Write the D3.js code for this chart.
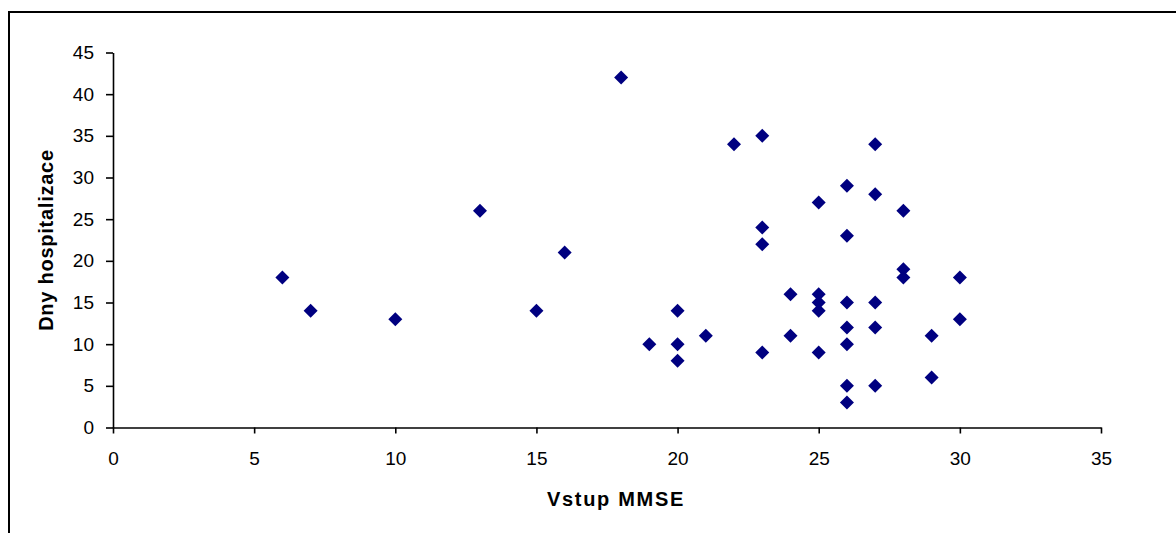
<!DOCTYPE html>
<html>
<head>
<meta charset="utf-8">
<script src="https://cdn.jsdelivr.net/npm/d3@7"></script>
<style>
  html, body { margin: 0; padding: 0; background: #fff; }
  svg { display: block; }
</style>
</head>
<body>
<svg id="chart" width="1176" height="533"></svg>
<script>
// MMSE score at admission and length of hospital stay (days)
const mmse = [6, 7, 10, 13, 15, 16, 18, 19, 20, 20, 20, 21, 22, 23, 23, 23, 23,
              24, 24, 25, 25, 25, 25, 25, 26, 26, 26, 26, 26, 26, 26,
              27, 27, 27, 27, 27, 28, 28, 28, 29, 29, 30, 30];
const days = [18, 14, 13, 26, 14, 21, 42, 10, 14, 10, 8, 11, 34, 35, 24, 22, 9,
              16, 11, 27, 16, 15, 14, 9, 29, 23, 15, 12, 10, 5, 3,
              34, 28, 15, 12, 5, 26, 19, 18, 11, 6, 18, 13];
const xTicks = [0, 5, 10, 15, 20, 25, 30, 35];
const yTicks = [0, 5, 10, 15, 20, 25, 30, 35, 40, 45];
const xTitle = "Vstup MMSE";
const yTitle = "Dny hospitalizace";

const svg = d3.select("#chart");
const font = "'Liberation Sans', Arial, sans-serif";

// outer chart frame (left and top edges visible)
svg.append("rect")
  .attr("x", 9).attr("y", 12)
  .attr("width", 1200).attr("height", 600)
  .attr("fill", "none").attr("stroke", "#000").attr("stroke-width", 2);

const x = d3.scaleLinear().domain([0, 35]).range([113, 1101]);
const y = d3.scaleLinear().domain([0, 45]).range([427.5, 52.5]);

const xAxis = svg.append("g")
  .attr("transform", `translate(0,${y(0)})`)
  .call(d3.axisBottom(x).tickValues(xTicks).tickSize(6).tickPadding(18).tickSizeOuter(0));
const yAxis = svg.append("g")
  .attr("transform", `translate(${x(0)},0)`)
  .call(d3.axisLeft(y).tickValues(yTicks).tickSize(7).tickPadding(12).tickSizeOuter(0));

[xAxis, yAxis].forEach(g => {
  g.select(".domain").attr("stroke", "#000").attr("stroke-width", 1.6);
  g.selectAll(".tick line").attr("stroke", "#000").attr("stroke-width", 1.6);
  g.selectAll(".tick text")
    .attr("fill", "#000")
    .style("font-family", font)
    .style("font-size", "19px");
});

// diamond markers
const diamond = "M0,-7L7,0L0,7L-7,0Z";
svg.append("g")
  .selectAll("path")
  .data(mmse.map((m, i) => [m, days[i]]))
  .join("path")
  .attr("d", diamond)
  .attr("transform", d => `translate(${x(d[0])},${y(d[1])})`)
  .attr("fill", "#000080");

// axis titles
svg.append("text")
  .attr("x", 616)
  .attr("y", 506)
  .attr("text-anchor", "middle")
  .style("font-family", font)
  .style("font-size", "20px")
  .style("font-weight", "bold")
  .style("letter-spacing", "1.7px")
  .text(xTitle);

svg.append("text")
  .attr("transform", `translate(53,${(y(0) + y(45)) / 2}) rotate(-90)`)
  .attr("text-anchor", "middle")
  .style("font-family", font)
  .style("font-size", "20px")
  .style("font-weight", "bold")
  .style("letter-spacing", "0.75px")
  .text(yTitle);
</script>
</body>
</html>
